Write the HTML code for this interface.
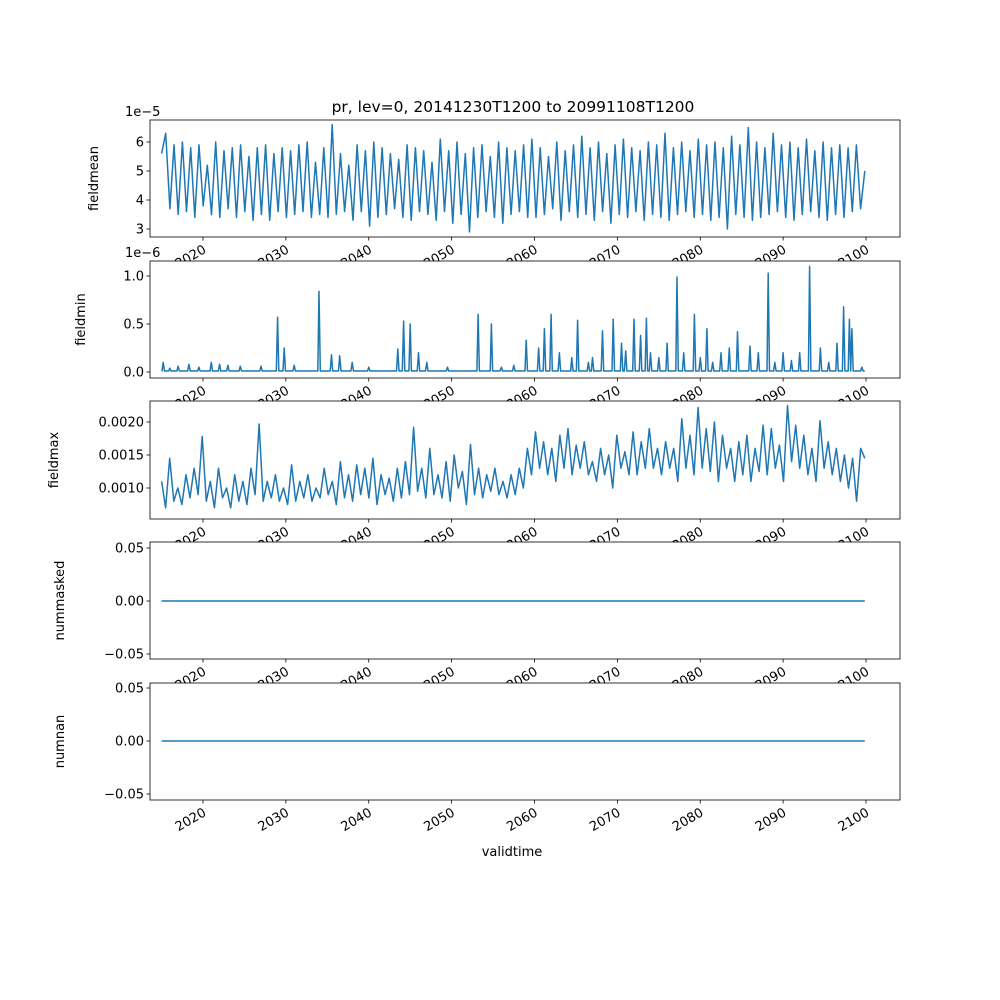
<!DOCTYPE html>
<html><head><meta charset="utf-8"><style>
body{margin:0;background:#fff}
svg{display:block;font-family:"DejaVu Sans","Liberation Sans",sans-serif}
</style></head><body>
<svg id="chart" width="1000" height="1000" viewBox="0 0 1000 1000"></svg>
<script>
// fieldmean (x1e-5)
const meanVals=[5.6,6.3,3.7,5.9,3.5,6.0,3.6,5.8,3.4,5.9,3.8,5.2,3.5,6.0,3.4,5.7,3.7,5.8,3.4,5.9,3.6,5.5,3.3,5.8,3.5,5.9,3.3,5.6,3.6,5.8,3.4,5.7,3.5,5.9,3.6,6.0,3.4,5.3,3.5,5.8,3.4,6.6,3.5,5.6,3.6,5.2,3.3,5.9,3.6,5.7,3.1,6.0,3.4,5.8,3.5,5.6,3.7,5.4,3.4,5.9,3.3,5.8,3.6,5.7,3.5,5.3,3.3,6.1,3.6,5.7,3.2,6.0,3.5,5.6,2.9,5.8,3.4,5.9,3.6,5.5,3.4,6.0,3.2,5.8,3.5,5.7,3.6,5.9,3.4,6.1,3.4,5.8,3.5,5.5,3.7,6.0,3.3,5.7,3.6,5.9,3.4,6.2,3.5,5.8,3.3,6.0,3.6,5.6,3.2,5.9,3.5,6.1,3.4,5.8,3.6,5.7,3.3,6.0,3.5,5.9,3.4,6.3,3.3,5.8,3.5,6.0,3.6,5.7,3.4,6.1,3.5,5.9,3.3,6.0,3.4,5.8,3.0,6.2,3.5,5.9,3.4,6.5,3.3,6.0,3.4,5.8,3.5,6.3,3.6,5.9,3.4,6.0,3.3,5.8,3.5,6.1,3.6,5.7,3.4,6.0,3.3,5.8,3.5,5.9,3.4,5.8,3.6,5.9,3.7,5.0];
// fieldmin spikes (x1e-6)
const minYears=[2015.2,2016,2017,2018.3,2019.5,2021,2022,2023,2024.5,2027,2029,2029.8,2031,2034,2035.5,2036.5,2038,2040,2043.5,2044.2,2045,2046,2047,2049.5,2053.2,2054.8,2056,2057.5,2059,2060.5,2061.2,2062,2063,2064.5,2065.2,2066.5,2067,2068.2,2069.5,2070.5,2071,2072,2072.8,2073.5,2074,2075,2076,2077.2,2078,2079.3,2080,2080.8,2081.5,2082.5,2083.5,2084.5,2086,2087,2088.2,2089,2090,2091,2092,2093.2,2094.5,2095.5,2096.5,2097.3,2098,2098.3,2099.5];
const minVals=[0.1,0.04,0.06,0.08,0.05,0.1,0.08,0.07,0.06,0.06,0.57,0.25,0.07,0.84,0.18,0.17,0.1,0.05,0.24,0.53,0.5,0.2,0.1,0.05,0.6,0.5,0.05,0.07,0.33,0.25,0.45,0.6,0.2,0.15,0.54,0.1,0.15,0.43,0.55,0.3,0.22,0.55,0.38,0.56,0.2,0.15,0.3,0.99,0.2,0.6,0.15,0.45,0.1,0.2,0.25,0.42,0.27,0.2,1.03,0.1,0.2,0.12,0.2,1.1,0.25,0.1,0.3,0.68,0.55,0.45,0.05];
// fieldmax (x1e-3)
const maxVals=[1.1,0.7,1.45,0.8,1.0,0.75,1.2,0.85,1.3,0.9,1.78,0.8,1.1,0.7,1.3,0.85,1.0,0.7,1.2,0.8,1.1,0.75,1.3,0.9,1.97,0.8,1.1,0.85,1.2,0.8,1.0,0.75,1.35,0.8,1.1,0.85,1.2,0.8,1.0,0.85,1.3,0.9,1.1,0.75,1.4,0.85,1.2,0.8,1.35,0.9,1.3,0.85,1.45,0.75,1.2,0.9,1.15,0.8,1.3,0.85,1.4,0.9,1.92,0.95,1.3,0.85,1.6,0.9,1.2,0.85,1.4,0.8,1.5,1.0,1.25,0.75,1.66,0.9,1.3,0.85,1.2,0.95,1.3,0.9,1.1,0.85,1.2,0.9,1.3,1.0,1.6,1.2,1.85,1.3,1.7,1.2,1.6,1.1,1.8,1.3,1.9,1.2,1.65,1.3,1.7,1.2,1.4,1.1,1.6,1.2,1.5,1.0,1.8,1.3,1.55,1.2,1.85,1.2,1.7,1.3,1.9,1.3,1.6,1.2,1.7,1.3,1.6,1.1,2.05,1.3,1.8,1.2,2.22,1.3,1.9,1.25,2.0,1.1,1.8,1.3,1.6,1.1,1.7,1.2,1.8,1.1,1.6,1.25,1.95,1.2,1.9,1.3,1.65,1.1,2.25,1.4,1.95,1.3,1.8,1.2,1.6,1.1,2.02,1.3,1.7,1.2,1.6,1.1,1.5,1.0,1.45,0.8,1.6,1.45];
const xTicks=[2020,2030,2040,2050,2060,2070,2080,2090,2100];

const svg=document.getElementById('chart');
const NS='http://www.w3.org/2000/svg';
function mk(tag,attrs,parent,text){const e=document.createElementNS(NS,tag);for(const k in attrs)e.setAttribute(k,attrs[k]);if(text!==undefined)e.textContent=text;(parent||svg).appendChild(e);return e;}
const L=150,R=900,T0=2015.0,T1=2099.85;
const X=t=>203+(t-2020)*(866-203)/80;
const C='#1f77b4';
const FS=13;
const panels=[
 {top:120,bot:237,name:'fieldmean',y:v=>229-(v-3)*29,ticks:[3,4,5,6],fmt:v=>String(v),off:'1e\u22125',lx:52},
 {top:261,bot:378,name:'fieldmin',y:v=>372-v*96,ticks:[0,0.5,1.0],fmt:v=>v.toFixed(1),off:'1e\u22126',lx:65},
 {top:401,bot:519,name:'fieldmax',y:v=>488-(v-1)*66,ticks:[1.0,1.5,2.0],fmt:v=>(v/1000).toFixed(4),off:null,lx:92},
 {top:542,bot:659,name:'nummasked',y:v=>601-v*1060,ticks:[-0.05,0,0.05],fmt:v=>v.toFixed(2).replace('-','\u2212'),off:null,lx:86},
 {top:683,bot:800,name:'numnan',y:v=>741-v*1060,ticks:[-0.05,0,0.05],fmt:v=>v.toFixed(2).replace('-','\u2212'),off:null,lx:86}
];
mk('text',{x:513,y:112,'text-anchor':'middle','font-size':15.5,},svg,'pr, lev=0, 20141230T1200 to 20991108T1200');

panels.forEach((p,i)=>{
 const g=mk('g',{});
 
 
 mk('rect',{x:L,y:p.top,width:R-L,height:p.bot-p.top,fill:'#fff',stroke:'none'},g);
 let pts=[];
 const spread=(arr)=>arr.map((v,k)=>[X(T0+k*(T1-T0)/(arr.length-1)),p.y(v)]);
 if(i===0){pts=spread(meanVals);}
 else if(i===1){pts.push([X(T0),p.y(0.01)]);minYears.forEach((t,k)=>{pts.push([X(t-0.15),p.y(0.01)],[X(t),p.y(minVals[k])],[X(t+0.15),p.y(0.01)]);});pts.push([X(T1),p.y(0.01)]);}
 else if(i===2){pts=spread(maxVals);}
 else {pts=[[X(T0),p.y(0)],[X(T1),p.y(0)]];}
 const line=mk('polyline',{points:pts.map(q=>q[0].toFixed(1)+','+q[1].toFixed(1)).join(' '),fill:'none',stroke:C,'stroke-width':1.5,'stroke-linejoin':'round'},g);
 
 
 mk('rect',{x:L,y:p.top,width:R-L,height:p.bot-p.top,fill:'none',stroke:'#000','stroke-width':0.8},g);
 p.ticks.forEach(v=>{const y=p.y(v);
  mk('line',{x1:L-3.5,x2:L,y1:y,y2:y,stroke:'#000','stroke-width':0.8},g);
  const t=mk('text',{x:L-6,y:y+4.7,'text-anchor':'end','font-size':FS},g,p.fmt(v));
  
  
 });
 const yl=mk('text',{x:0,y:0,transform:`translate(${L-p.lx},${(p.top+p.bot)/2}) rotate(-90)`,'text-anchor':'middle','font-size':FS},g,p.name);
 
 
 if(p.off){const o=mk('text',{x:L-25,y:p.top-4,'font-size':FS},g,p.off);}
 xTicks.forEach(t=>{const x=X(t);
  mk('line',{x1:x,x2:x,y1:p.bot,y2:p.bot+3.5,stroke:'#000','stroke-width':0.8},g);
  const tl=mk('text',{x:0,y:0,transform:`translate(${x+4},${p.bot+15}) rotate(-30)`,'text-anchor':'end','font-size':FS},g,String(t));
  
  
 });
});
mk('text',{x:512,y:856,'text-anchor':'middle','font-size':FS,},svg,'validtime');
</script>
</body></html>
